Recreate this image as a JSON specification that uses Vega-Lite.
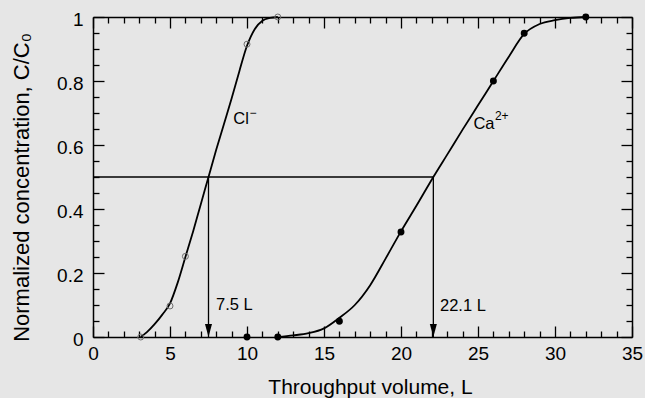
{
  "$schema": "https://vega.github.io/schema/vega-lite/v6.json",
  "width": 539,
  "height": 320,
  "autosize": "none",
  "padding": {"left": 93, "top": 17, "right": 13, "bottom": 61},
  "background": "#e6e6e6",
  "config": {
    "view": {"stroke": null},
    "font": "Liberation Sans",
    "axis": {
      "grid": false,
      "domainColor": "#000000",
      "domainWidth": 1.5,
      "tickColor": "#000000",
      "tickWidth": 1.3,
      "labelFont": "Liberation Sans",
      "labelFontSize": 19,
      "labelColor": "#000000",
      "labelFlush": false,
      "labelOverlap": false,
      "labelBound": false,
      "titleFont": "Liberation Sans",
      "titleFontSize": 21,
      "titleFontWeight": "normal",
      "titleColor": "#000000"
    },
    "text": {"font": "Liberation Sans"}
  },
  "datasets": {
    "clCurve": [
      {"v": 3.1, "c": 0}, {"v": 3.5, "c": 0.015}, {"v": 4, "c": 0.04}, {"v": 4.5, "c": 0.07},
      {"v": 5, "c": 0.105}, {"v": 5.5, "c": 0.17}, {"v": 6, "c": 0.25}, {"v": 6.5, "c": 0.33},
      {"v": 7, "c": 0.415}, {"v": 7.5, "c": 0.5}, {"v": 8, "c": 0.585}, {"v": 8.5, "c": 0.665},
      {"v": 9, "c": 0.745}, {"v": 9.5, "c": 0.83}, {"v": 10, "c": 0.91}, {"v": 10.5, "c": 0.962},
      {"v": 11, "c": 0.988}, {"v": 11.5, "c": 0.997}, {"v": 12, "c": 1}
    ],
    "caCurve": [
      {"v": 12, "c": 0}, {"v": 13, "c": 0.005}, {"v": 14, "c": 0.012}, {"v": 15, "c": 0.027},
      {"v": 16, "c": 0.06}, {"v": 17, "c": 0.1}, {"v": 18, "c": 0.162}, {"v": 19, "c": 0.245},
      {"v": 20, "c": 0.33}, {"v": 21, "c": 0.41}, {"v": 22.1, "c": 0.5}, {"v": 23, "c": 0.57},
      {"v": 24, "c": 0.648}, {"v": 25, "c": 0.724}, {"v": 26, "c": 0.8}, {"v": 27, "c": 0.876},
      {"v": 28, "c": 0.947}, {"v": 29, "c": 0.978}, {"v": 30, "c": 0.99}, {"v": 31, "c": 0.997},
      {"v": 32, "c": 1}
    ],
    "clPts": [
      {"v": 3.1, "c": 0}, {"v": 5, "c": 0.097}, {"v": 6, "c": 0.252}, {"v": 10, "c": 0.915}, {"v": 12, "c": 1}
    ],
    "caPts": [
      {"v": 10, "c": 0}, {"v": 12, "c": 0}, {"v": 16, "c": 0.049}, {"v": 20, "c": 0.328},
      {"v": 26, "c": 0.8}, {"v": 28, "c": 0.949}, {"v": 32, "c": 1}
    ],
    "hline": [{"v": 0, "v2": 22.1, "c": 0.5}],
    "arrows": [{"v": 7.5, "c": 0.5, "c2": 0}, {"v": 22.1, "c": 0.5, "c2": 0}],
    "labels": [
      {"v": 7.99, "c": 0.083, "t": "7.5 L"},
      {"v": 22.53, "c": 0.08, "t": "22.1 L"},
      {"v": 9.11, "c": 0.667, "t": "Cl"},
      {"v": 24.7, "c": 0.65, "t": "Ca"}
    ],
    "sups": [
      {"v": 10.17, "c": 0.689, "t": "−"},
      {"v": 26.1, "c": 0.677, "t": "2+"}
    ]
  },
  "layer": [
    {
      "data": {"name": "clCurve"},
      "mark": {"type": "line", "interpolate": "monotone", "color": "#000000", "strokeWidth": 1.8},
      "encoding": {
        "x": {
          "field": "v", "type": "quantitative",
          "scale": {"domain": [0, 35], "nice": false, "zero": false},
          "axis": {
            "orient": "bottom",
            "values": [0,1,2,3,4,5,6,7,8,9,10,11,12,13,14,15,16,17,18,19,20,21,22,23,24,25,26,27,28,29,30,31,32,33,34,35],
            "tickSize": {"condition": {"test": "datum.value % 5 === 0", "value": -11}, "value": -6},
            "labelExpr": "datum.value % 5 === 0 ? format(datum.value, '~g') : ''",
            "labelPadding": 18,
            "title": "Throughput volume, L",
            "titleX": 277,
            "titleY": 56,
            "titleBaseline": "alphabetic",
            "titleAnchor": null
          }
        },
        "y": {
          "field": "c", "type": "quantitative",
          "scale": {"domain": [0, 1], "nice": false, "zero": false},
          "axis": {
            "orient": "left",
            "values": [0,0.05,0.1,0.15,0.2,0.25,0.3,0.35,0.4,0.45,0.5,0.55,0.6,0.65,0.7,0.75,0.8,0.85,0.9,0.95,1],
            "tickSize": {"condition": {"test": "abs(datum.value*5 - round(datum.value*5)) < 0.000001", "value": -11}, "value": -6},
            "labelExpr": "abs(datum.value*5 - round(datum.value*5)) < 0.000001 ? format(datum.value, '~g') : ''",
            "labelPadding": 21,
            "labelOffset": 2,
            "title": "Normalized concentration, C/C₀",
            "titleFontSize": 22,
            "titleX": -65,
            "titleY": 170,
            "titleAngle": -90,
            "titleBaseline": "alphabetic",
            "titleAlign": "center"
          }
        }
      }
    },
    {
      "data": {"name": "caCurve"},
      "mark": {"type": "line", "interpolate": "monotone", "color": "#000000", "strokeWidth": 1.8},
      "encoding": {
        "x": {
          "field": "v", "type": "quantitative",
          "axis": {
            "orient": "top",
            "values": [0,1,2,3,4,5,6,7,8,9,10,11,12,13,14,15,16,17,18,19,20,21,22,23,24,25,26,27,28,29,30,31,32,33,34,35],
            "tickSize": {"condition": {"test": "datum.value % 5 === 0", "value": -11}, "value": -6},
            "labels": false,
            "title": null
          }
        },
        "y": {
          "field": "c", "type": "quantitative",
          "axis": {
            "orient": "right",
            "values": [0,0.05,0.1,0.15,0.2,0.25,0.3,0.35,0.4,0.45,0.5,0.55,0.6,0.65,0.7,0.75,0.8,0.85,0.9,0.95,1],
            "tickSize": {"condition": {"test": "abs(datum.value*5 - round(datum.value*5)) < 0.000001", "value": -11}, "value": -6},
            "labels": false,
            "title": null
          }
        }
      }
    },
    {
      "data": {"name": "hline"},
      "mark": {"type": "rule", "color": "#000000", "strokeWidth": 1.3},
      "encoding": {
        "x": {"field": "v", "type": "quantitative", "axis": null},
        "x2": {"field": "v2"},
        "y": {"field": "c", "type": "quantitative", "axis": null}
      }
    },
    {
      "data": {"name": "arrows"},
      "mark": {"type": "rule", "color": "#000000", "strokeWidth": 1.3},
      "encoding": {
        "x": {"field": "v", "type": "quantitative", "axis": null},
        "y": {"field": "c", "type": "quantitative", "axis": null},
        "y2": {"field": "c2"}
      }
    },
    {
      "data": {"name": "arrows"},
      "mark": {"type": "point", "shape": "M0,0L-0.27,-1L0.27,-1Z", "filled": true, "color": "#000000", "size": 676, "opacity": 1},
      "encoding": {
        "x": {"field": "v", "type": "quantitative", "axis": null},
        "y": {"field": "c2", "type": "quantitative", "axis": null}
      }
    },
    {
      "data": {"name": "clPts"},
      "mark": {"type": "point", "shape": "circle", "filled": false, "stroke": "#6e6e6e", "strokeWidth": 1, "size": 36, "opacity": 1},
      "encoding": {
        "x": {"field": "v", "type": "quantitative", "axis": null},
        "y": {"field": "c", "type": "quantitative", "axis": null}
      }
    },
    {
      "data": {"name": "caPts"},
      "mark": {"type": "point", "shape": "circle", "filled": true, "color": "#000000", "size": 48, "opacity": 1},
      "encoding": {
        "x": {"field": "v", "type": "quantitative", "axis": null},
        "y": {"field": "c", "type": "quantitative", "axis": null}
      }
    },
    {
      "data": {"name": "labels"},
      "mark": {"type": "text", "align": "left", "baseline": "alphabetic", "fontSize": 16.5, "color": "#000000"},
      "encoding": {
        "x": {"field": "v", "type": "quantitative", "axis": null},
        "y": {"field": "c", "type": "quantitative", "axis": null},
        "text": {"field": "t"}
      }
    },
    {
      "data": {"name": "sups"},
      "mark": {"type": "text", "align": "left", "baseline": "alphabetic", "fontSize": 12, "color": "#000000"},
      "encoding": {
        "x": {"field": "v", "type": "quantitative", "axis": null},
        "y": {"field": "c", "type": "quantitative", "axis": null},
        "text": {"field": "t"}
      }
    }
  ],
  "resolve": {"axis": {"x": "independent", "y": "independent"}}
}
